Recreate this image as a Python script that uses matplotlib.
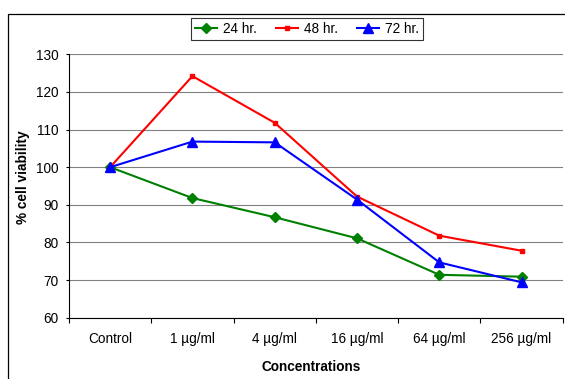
import matplotlib
matplotlib.use("Agg")
import matplotlib.pyplot as plt
from matplotlib.patches import Rectangle
from matplotlib.ticker import FixedLocator
import numpy as np

categories = ["Control", "1 µg/ml", "4 µg/ml", "16 µg/ml", "64 µg/ml", "256 µg/ml"]
hr24 = [100, 91.8, 86.7, 81.1, 71.4, 70.9]
hr48 = [100, 124.2, 111.8, 92.2, 81.8, 77.8]
hr72 = [100, 106.8, 106.6, 91.4, 74.7, 69.4]
series_labels = ["24 hr.", "48 hr.", "72 hr."]
y_ticks = [60, 70, 80, 90, 100, 110, 120, 130]

plt.rcParams['font.family'] = ['Liberation Sans', 'DejaVu Sans']

W, H = 565, 379
fig = plt.figure(figsize=(W / 100, H / 100), dpi=100)
fig.patch.set_facecolor('white')

# outer frame
fig.patches.append(Rectangle((8 / W, -0.1), 1.2, 1 - 14 / H + 0.1,
                             transform=fig.transFigure, fill=False,
                             edgecolor='black', linewidth=0.9))

left, right = 69 / W, 562.7 / W
bottom, top = 1 - 317.7 / H, 1 - 54.3 / H
ax = fig.add_axes([left, bottom, right - left, top - bottom])

x = np.arange(len(categories))
l1, = ax.plot(x, hr24, color='#008000', lw=1.5, marker='D', markersize=4.8, zorder=3)
l2, = ax.plot(x, hr48, color='#FF0000', lw=1.5, marker='s', markersize=3.2, zorder=4)
l3, = ax.plot(x, hr72, color='#0000FF', lw=1.5, marker='^', markersize=7, zorder=5)

ax.set_xlim(-0.5, len(categories) - 0.5)
ax.set_ylim(60, 130)
ax.set_yticks(y_ticks)
ax.yaxis.grid(True, color='#808080', linewidth=0.8)
ax.set_axisbelow(True)

ax.set_xticks(x)
ax.set_xticklabels(categories)
ax.xaxis.set_minor_locator(FixedLocator(np.arange(-0.5, len(categories), 1.0)))
ax.tick_params(axis='x', which='major', length=0, pad=10, labelsize=9.8)
ax.tick_params(axis='x', which='minor', length=3.6, width=0.8, direction='out')
ax.tick_params(axis='y', length=2.5, width=0.8, pad=5, labelsize=9.8)

for s in ['top', 'right']:
    ax.spines[s].set_visible(False)
for s in ['left', 'bottom']:
    ax.spines[s].set_linewidth(0.8)
    ax.spines[s].set_color('black')

fig.text(310.7 / W, 1 - 367 / H, "Concentrations", ha='center', va='center',
         fontsize=9.8, fontweight='bold')
fig.text(23 / W, 1 - 177 / H, "% cell viability", ha='center', va='center',
         rotation=90, fontsize=9.8, fontweight='bold')

leg = fig.legend([l1, l2, l3], series_labels, loc='center',
                 bbox_to_anchor=(306.8 / W, 1 - 29.2 / H), ncol=3,
                 fontsize=9.8, frameon=True, fancybox=False,
                 handlelength=1.6, handletextpad=0.45, columnspacing=1.4,
                 borderpad=0.3, borderaxespad=0)
leg.get_frame().set_edgecolor('black')
leg.get_frame().set_linewidth(0.8)

fig.savefig("out.png", dpi=100, facecolor='white')
